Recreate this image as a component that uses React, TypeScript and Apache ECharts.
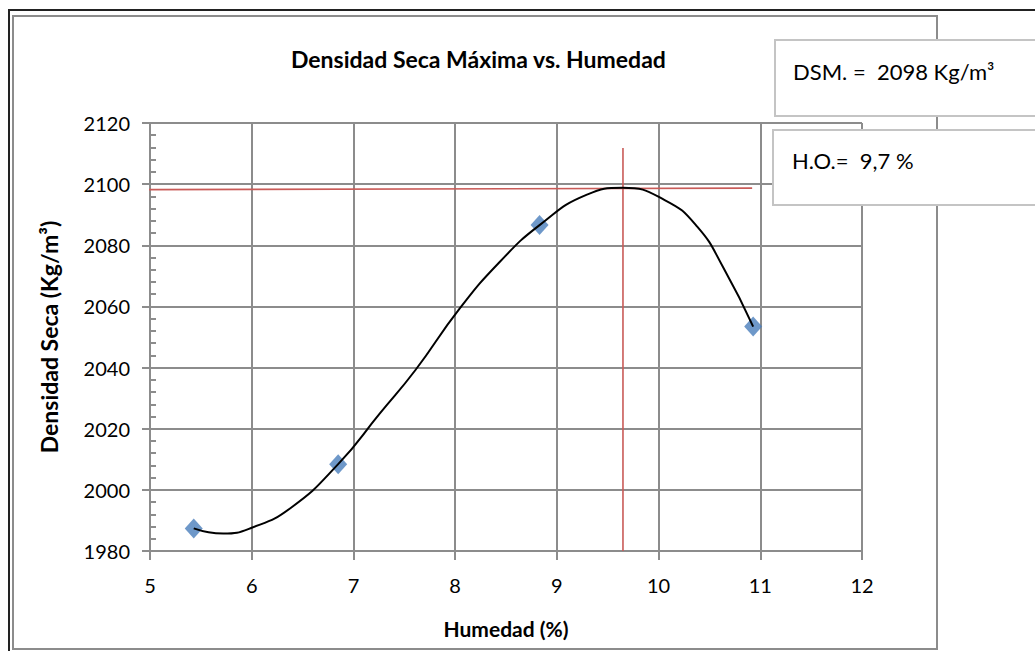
import React, { useEffect, useRef } from "react";
import * as echarts from "echarts";

const titleText = "Densidad Seca Máxima vs. Humedad";
const xAxisName = "Humedad (%)";
const yAxisName = "Densidad Seca (Kg/m³)";
const dsmLabel = "DSM. =  2098 Kg/m³";
const hoLabel = "H.O.=  9,7 %";

const humedad = [5.43, 6.85, 8.83, 10.93];
const densidad = [1987.4, 2008.4, 2086.6, 2053.4];

const curveX = [5.43, 5.72, 6.0, 6.38, 6.85, 7.26, 7.61, 8.04, 8.44, 8.83, 9.29, 9.65, 10.06, 10.38, 10.64, 10.93];
const curveY = [1987.4, 1985.7, 1987.6, 1994.0, 2008.4, 2025.0, 2039.2, 2059.1, 2074.6, 2086.6, 2096.5, 2098.8, 2094.8, 2086.1, 2072.5, 2053.4];

const hLineX = [4.98, 10.92];
const hLineY = [2098.2, 2098.7];
const vLineX = [9.65, 9.65];
const vLineY = [1980, 2111.8];

const xMin = 5, xMax = 12, xStep = 1;
const yMin = 1980, yMax = 2120, yStep = 20, yMinorStep = 4;

const FONT = "Lato";

export default function App() {
  const ref = useRef<HTMLDivElement>(null);
  useEffect(() => {
    if (!ref.current) return;
    const chart = echarts.init(ref.current, undefined, { renderer: "svg" });
    const grid = "#8c8c8c";
    chart.setOption({
      animation: false,
      backgroundColor: "#fff",
      textStyle: { fontFamily: FONT },
      title: {
        text: titleText,
        left: 286,
        top: 42,
        textStyle: { fontFamily: FONT, fontSize: 23, fontWeight: "bold", color: "#000" },
      },
      grid: { left: 150, top: 123, width: 712, height: 428 },
      xAxis: {
        type: "value",
        min: xMin,
        max: xMax,
        interval: xStep,
        name: xAxisName,
        nameLocation: "middle",
        nameGap: 67,
        nameTextStyle: { fontFamily: FONT, fontSize: 21, fontWeight: "bold", color: "#000" },
        axisLine: { show: true, lineStyle: { color: grid, width: 2 } },
        axisTick: { show: true, length: 9, lineStyle: { color: grid, width: 2 } },
        axisLabel: { fontFamily: FONT, fontSize: 20, color: "#000", margin: 24 },
        splitLine: { show: true, lineStyle: { color: grid, width: 2 } },
      },
      yAxis: [
        {
          type: "value",
          min: yMin,
          max: yMax,
          interval: yStep,
          name: yAxisName,
          nameLocation: "middle",
          nameGap: 90,
          nameTextStyle: { fontFamily: FONT, fontSize: 23, fontWeight: "bold", color: "#000" },
          axisLine: { show: true, lineStyle: { color: grid, width: 2 } },
          axisTick: { show: true, length: 8, lineStyle: { color: grid, width: 2 } },
          axisLabel: {
            fontFamily: FONT,
            fontSize: 20,
            color: "#000",
            margin: 20,
            formatter: (v: number) => String(v),
          },
          splitLine: { show: true, lineStyle: { color: grid, width: 2 } },
        },
        {
          type: "value",
          min: yMin,
          max: yMax,
          interval: yMinorStep,
          position: "left",
          axisLine: { show: false },
          axisTick: { show: true, inside: true, length: 6, lineStyle: { color: grid, width: 2 } },
          axisLabel: { show: false },
          splitLine: { show: false },
        },
      ],
      series: [
        {
          type: "line",
          data: hLineX.map((x, i) => [x, hLineY[i]]),
          symbol: "none",
          lineStyle: { color: "#c95b58", width: 1.6 },
          clip: false,
          z: 3,
        },
        {
          type: "line",
          data: vLineX.map((x, i) => [x, vLineY[i]]),
          symbol: "none",
          lineStyle: { color: "#c95b58", width: 1.6 },
          z: 3,
        },
        {
          type: "scatter",
          data: humedad.map((x, i) => [x, densidad[i]]),
          symbol: "diamond",
          symbolSize: [18, 20],
          itemStyle: { color: "#4a7ebb" },
          z: 4,
        },
        {
          type: "line",
          data: curveX.map((x, i) => [x, curveY[i]]),
          smooth: 0.5,
          symbol: "none",
          lineStyle: { color: "#000", width: 2 },
          z: 5,
        },
      ],
      graphic: [
        { type: "line", shape: { x1: 8, y1: 10, x2: 1035, y2: 10 }, style: { stroke: "#222", lineWidth: 2 } },
        { type: "line", shape: { x1: 9, y1: 10, x2: 9, y2: 651 }, style: { stroke: "#222", lineWidth: 2 } },
        { type: "rect", shape: { x: 13, y: 16, width: 924, height: 633 }, style: { fill: "none", stroke: "#8c8c8c", lineWidth: 2 }, z: -10 },
        { type: "rect", shape: { x: 775, y: 40, width: 270, height: 76 }, style: { fill: "#fff", stroke: "#c4c4c4", lineWidth: 2 }, z: 10 },
        { type: "text", x: 793, y: 71, style: { text: dsmLabel, font: `22px ${FONT}`, fill: "#000", verticalAlign: "middle" }, z: 11 },
        { type: "rect", shape: { x: 773, y: 130, width: 272, height: 75 }, style: { fill: "#fff", stroke: "#c4c4c4", lineWidth: 2 }, z: 10 },
        { type: "text", x: 792, y: 160, style: { text: hoLabel, font: `22px ${FONT}`, fill: "#000", verticalAlign: "middle" }, z: 11 },
      ],
    });
    return () => chart.dispose();
  }, []);
  return (
    <div style={{ position: "fixed", left: 0, top: 0, width: 1035, height: 651, background: "#fff" }}>
      <div ref={ref} style={{ width: 1035, height: 651 }} />
    </div>
  );
}
